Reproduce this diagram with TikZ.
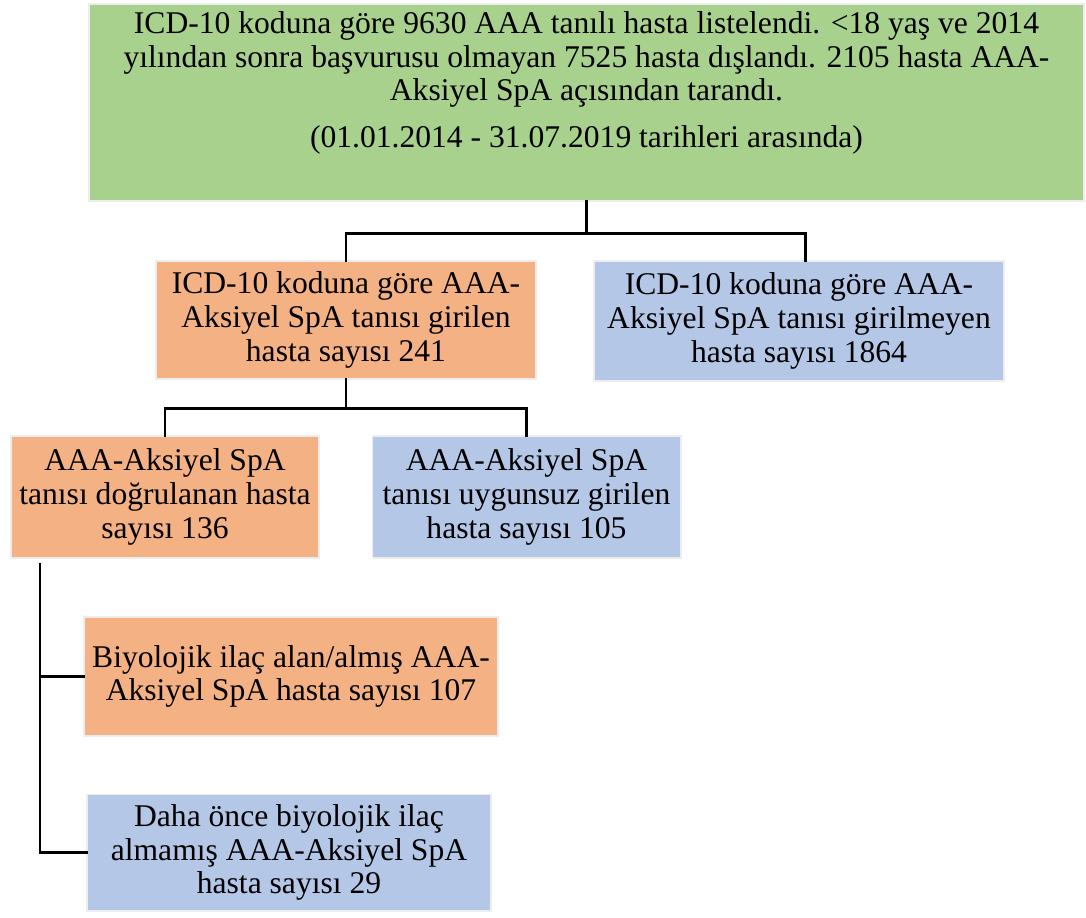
\documentclass[tikz,border=0pt]{standalone}
\usepackage{fontspec}
\setmainfont{Liberation Serif}

\definecolor{boxgreen}{HTML}{A9D18E}
\definecolor{boxorange}{HTML}{F4B183}
\definecolor{boxblue}{HTML}{B4C7E7}

\begin{document}
\begin{tikzpicture}[x=0.75pt,y=-0.75pt]

    \tikzstyle{box} = [rectangle, inner sep=0pt, align=center, preaction={draw=black!7, line width=2.5pt},
                       font=\fontsize{23.7}{25.2}\selectfont]
    \tikzstyle{greenbox} = [box, fill=boxgreen]
    \tikzstyle{orangebox} = [box, fill=boxorange]
    \tikzstyle{bluebox} = [box, fill=boxblue]
    \tikzstyle{link} = [draw, line width=2pt]

    \useasboundingbox (0,0) rectangle (1086,918);

    \node[greenbox, minimum width=744.75pt, minimum height=146.25pt] (top) at (586.5,102.5)
        {\parbox[c][140pt][t]{740pt}{\centering\vspace*{2pt}%
         ICD-10 koduna göre 9630 AAA tanılı hasta listelendi. <18 yaş ve 2014\\
         yılından sonra başvurusu olmayan 7525 hasta dışlandı. 2105 hasta AAA-\\
         Aksiyel SpA açısından tarandı.\par\vspace{10pt}
         (01.01.2014 - 31.07.2019 tarihleri arasında)}};

    \node[orangebox, minimum width=283.5pt, minimum height=87pt] (pos) at (346,320)
        {ICD-10 koduna göre AAA-\\Aksiyel SpA tanısı girilen\\hasta sayısı 241};
    \node[bluebox, minimum width=306pt, minimum height=88.5pt] (neg) at (799,321)
        {ICD-10 koduna göre AAA-\\Aksiyel SpA tanısı girilmeyen\\hasta sayısı 1864};

    \node[orangebox, minimum width=229.5pt, minimum height=90pt] (conf) at (165,497)
        {AAA-Aksiyel SpA\\tanısı doğrulanan hasta\\sayısı 136};
    \node[bluebox, minimum width=230pt, minimum height=90pt] (wrong) at (526.5,497)
        {AAA-Aksiyel SpA\\tanısı uygunsuz girilen\\hasta sayısı 105};

    \node[orangebox, minimum width=309pt, minimum height=87.75pt] (bio) at (291,676.5)
        {Biyolojik ilaç alan/almış AAA-\\Aksiyel SpA hasta sayısı 107};
    \node[bluebox, minimum width=301.5pt, minimum height=86pt] (nobio) at (289,852.5)
        {Daha önce biyolojik ilaç\\almamış AAA-Aksiyel SpA\\hasta sayısı 29};

    \coordinate (trunk) at (40,563);

    \draw[link] (top.south) -- ++(0,33) -| (pos.north);
    \draw[link] (top.south) ++(0,33) -| ([xshift=5pt]neg.north);
    \draw[link] (pos.south) -- ++(0,30) -| (conf.north);
    \draw[link] (pos.south) ++(0,30) -| (wrong.north);
    \draw[link] (trunk) |- (bio.west);
    \draw[link] (trunk) |- (nobio.west);
\end{tikzpicture}
\end{document}
